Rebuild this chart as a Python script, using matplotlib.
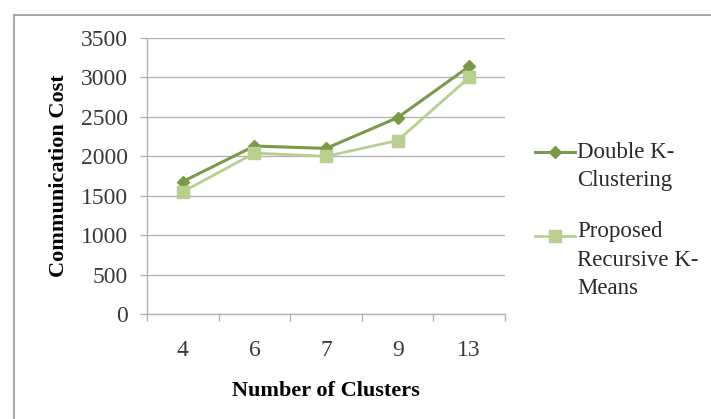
import matplotlib.pyplot as plt
from matplotlib.lines import Line2D
from matplotlib.patches import Rectangle

# cluster counts on the x axis and cost per method
clusters = ['4', '6', '7', '9', '13']
double_kclustering = [1680, 2130, 2100, 2490, 3140]
recursive_kmeans = [1550, 2040, 2000, 2200, 3000]
series_names = ['Double K-\nClustering', 'Proposed\nRecursive K-\nMeans']

dark_green = '#7a9a4a'
light_green = '#b9cf90'
grid_grey = '#b4b4b4'

plt.rcParams['font.family'] = ['Liberation Serif', 'DejaVu Serif']

fig = plt.figure(figsize=(7.11, 4.19), dpi=100)
ax = fig.add_axes([0.2068, 0.2506, 0.5035, 0.6587])

x = list(range(len(clusters)))
ax.plot(x, double_kclustering, color=dark_green, linewidth=2.2,
        marker='D', markersize=6, markerfacecolor=dark_green,
        markeredgecolor=dark_green, zorder=3)
ax.plot(x, recursive_kmeans, color=light_green, linewidth=2.0,
        marker='s', markersize=9, markerfacecolor=light_green,
        markeredgecolor=light_green, zorder=4)

ax.set_xlim(-0.5, len(clusters) - 0.5)
ax.set_ylim(0, 3500)
ax.set_yticks(range(0, 3501, 500))
ax.set_xticks(x)
ax.set_xticklabels(clusters)
ax.set_xticks([i - 0.5 for i in range(len(clusters) + 1)], minor=True)

ax.yaxis.grid(True, color=grid_grey, linewidth=1.0)
ax.set_axisbelow(True)
for side in ['top', 'right']:
    ax.spines[side].set_visible(False)
for side in ['left', 'bottom']:
    ax.spines[side].set_color(grid_grey)
    ax.spines[side].set_linewidth(1.0)

ax.tick_params(axis='y', length=5, width=1, color=grid_grey, pad=8.5,
               labelsize=17, labelcolor='#3a3a3a')
ax.tick_params(axis='x', which='major', length=0, pad=19,
               labelsize=17, labelcolor='#3a3a3a')
ax.tick_params(axis='x', which='minor', length=5, width=1, color=grid_grey)

ax.set_ylabel('Communication Cost', fontsize=16, fontweight='bold', labelpad=9)
ax.set_xlabel('Number of Clusters', fontsize=16, fontweight='bold', labelpad=14)

# legend drawn by hand so each marker sits level with the first text line
W, H = 711.0, 419.0
legend_rows = [
    (152, 152, dark_green, 'D', 6, 2.2),
    (236, 232, light_green, 's', 9, 2.0),
]
for (ymark, ytext, col, mk, ms, lw), name in zip(legend_rows, series_names):
    yf = 1 - ymark / H
    fig.add_artist(Line2D([535 / W, 575 / W], [yf, yf], color=col, linewidth=lw,
                          transform=fig.transFigure))
    fig.add_artist(Line2D([555 / W], [yf], marker=mk, markersize=ms, color=col,
                          transform=fig.transFigure))
    for k, line in enumerate(name.split('\n')):
        fig.text(577 / W, 1 - (ytext + 28.5 * k) / H, line,
                 fontsize=16.5, va='center', ha='left', color='#2a2a2a')

# chart border, running off the right and bottom edges
fig.add_artist(Rectangle((14 / W, -0.1), 1.2, 1.1 - 15 / H, fill=False,
                         edgecolor='#a8a8a8', linewidth=1.5,
                         transform=fig.transFigure))

fig.savefig('out.png', dpi=100)
